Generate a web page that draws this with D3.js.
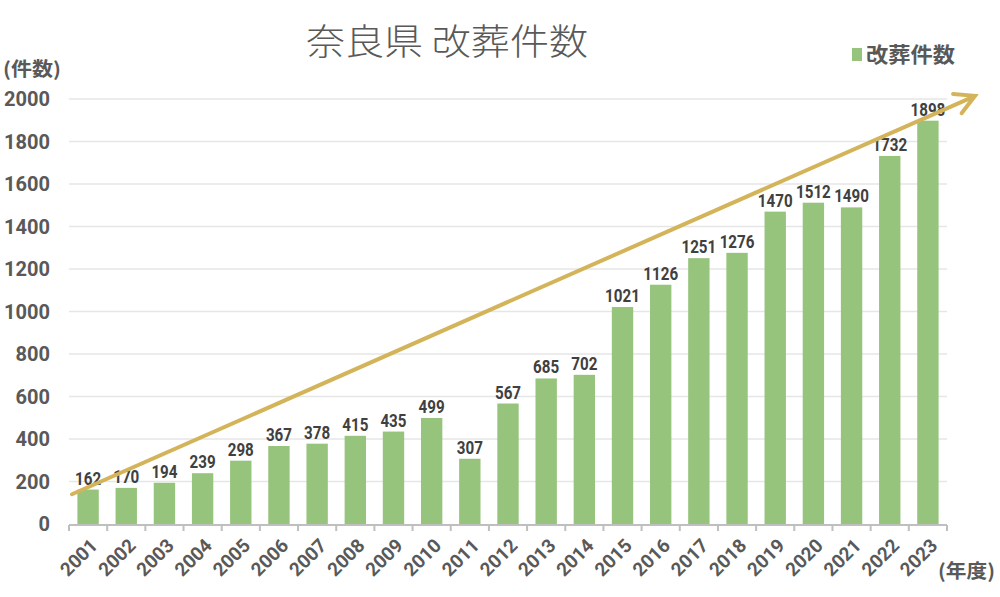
<!DOCTYPE html>
<html><head><meta charset="utf-8">
<script src="https://cdn.jsdelivr.net/npm/d3@7"></script>
<style>body{margin:0;background:#fff}svg{display:block}</style>
</head><body><svg id="c" width="1000" height="597"></svg>
<script>
const years = ["2001","2002","2003","2004","2005","2006","2007","2008","2009","2010","2011","2012","2013","2014","2015","2016","2017","2018","2019","2020","2021","2022","2023"];
const counts = [162,170,194,239,298,367,378,415,435,499,307,567,685,702,1021,1126,1251,1276,1470,1512,1490,1732,1898];
const yTicks = [0,200,400,600,800,1000,1200,1400,1600,1800,2000];
const trendStart = 140, trendEnd = 2015;

const svg = d3.select("#c");
const m = {l:69, r:947, t:99, b:524};
const x = d3.scaleBand().domain(years).range([m.l, m.r]).paddingInner(0.44).paddingOuter(0.22);
const xb = d3.scaleBand().domain(years).range([m.l, m.r]);
const y = d3.scaleLinear().domain([0,2000]).range([m.b, m.t]);
const font = "Roboto, 'Noto Sans CJK JP', sans-serif";
const cjk = "'Noto Sans CJK JP', sans-serif";
const txt = "#595959";

// gridlines
svg.append("g").selectAll("line").data(yTicks.slice(1)).join("line")
  .attr("x1", m.l).attr("x2", m.r).attr("y1", d=>y(d)).attr("y2", d=>y(d))
  .attr("stroke", "#e6e6e6").attr("stroke-width", 1.3);

// y labels
svg.append("g").selectAll("text").data(yTicks).join("text")
  .attr("x", 50).attr("y", d=>y(d)).attr("dy","0.36em").attr("text-anchor","end")
  .attr("font-family", font).attr("font-weight","bold").attr("font-size",20).attr("fill",txt)
  .attr("textLength", d=>String(d).length*11.5).attr("lengthAdjust","spacingAndGlyphs")
  .text(d=>d);

// bars
svg.append("g").selectAll("rect").data(counts).join("rect")
  .attr("x",(d,i)=>x(years[i])).attr("width",x.bandwidth())
  .attr("y",d=>y(d)).attr("height",d=>y(0)-y(d)).attr("fill","#97c47d");

// axis
svg.append("line").attr("x1",m.l).attr("x2",m.r).attr("y1",m.b+1).attr("y2",m.b+1)
  .attr("stroke","#bfbfbf").attr("stroke-width",2);
const bounds = years.map(d=>xb(d)).concat([m.r]);
svg.append("g").selectAll("line").data(bounds).join("line")
  .attr("x1",d=>d).attr("x2",d=>d).attr("y1",m.b+1).attr("y2",m.b+7)
  .attr("stroke","#bfbfbf").attr("stroke-width",2);

// x labels
svg.append("g").selectAll("text").data(years).join("text")
  .attr("transform", d=>`translate(${xb(d)+xb.bandwidth()/2+6},${m.b+18}) rotate(-45)`)
  .attr("text-anchor","end").attr("dy","0.35em")
  .attr("font-family", font).attr("font-weight","bold").attr("font-size",19).attr("fill",txt)
  .text(d=>d);

// data labels
svg.append("g").selectAll("text").data(counts).join("text")
  .attr("x",(d,i)=>x(years[i])+x.bandwidth()/2).attr("y",d=>y(d)-5)
  .attr("text-anchor","middle")
  .attr("font-family", font).attr("font-weight","bold").attr("font-size",19).attr("fill","#404040")
  .attr("textLength", d=>String(d).length*8.7).attr("lengthAdjust","spacingAndGlyphs")
  .text(d=>d);

// trend arrow
const ax1 = m.l+3, ay1 = y(trendStart), ax2 = 975, ay2 = y(trendEnd);
const ang = Math.atan2(ay2-ay1, ax2-ax1);
const col = "#d4b45a";
svg.append("line").attr("x1",ax1).attr("y1",ay1).attr("x2",ax2-2).attr("y2",ay2+1)
  .attr("stroke",col).attr("stroke-width",4).attr("stroke-linecap","round");
const hl = 22, ha = 0.5;
const head = [[ax2-hl*Math.cos(ang-ha), ay2-hl*Math.sin(ang-ha)],[ax2,ay2],[ax2-hl*Math.cos(ang+ha), ay2-hl*Math.sin(ang+ha)]];
svg.append("path").attr("d", d3.line()(head)).attr("fill","none").attr("stroke",col)
  .attr("stroke-width",4).attr("stroke-linecap","round").attr("stroke-linejoin","miter");

// title
svg.append("text").attr("x",447).attr("y",55).attr("text-anchor","middle")
  .attr("font-family",cjk).attr("font-weight",300).attr("font-size",36).attr("fill",txt)
  .attr("textLength",282).attr("lengthAdjust","spacingAndGlyphs")
  .text("奈良県 改葬件数");

// axis titles
svg.append("text").attr("x",3).attr("y",76).attr("font-family",cjk).attr("font-weight","bold")
  .attr("font-size",19).attr("fill",txt).attr("textLength",58).attr("lengthAdjust","spacingAndGlyphs").text("(件数)");
svg.append("text").attr("x",938).attr("y",578).attr("font-family",cjk).attr("font-weight","bold")
  .attr("font-size",19).attr("fill",txt).attr("textLength",57).attr("lengthAdjust","spacingAndGlyphs").text("(年度)");

// legend
svg.append("rect").attr("x",852).attr("y",48).attr("width",10).attr("height",13).attr("fill","#97c47d");
svg.append("text").attr("x",866).attr("y",62).attr("font-family",cjk).attr("font-weight","bold")
  .attr("font-size",21).attr("fill",txt).attr("textLength",89).attr("lengthAdjust","spacingAndGlyphs").text("改葬件数");
</script></body></html>
